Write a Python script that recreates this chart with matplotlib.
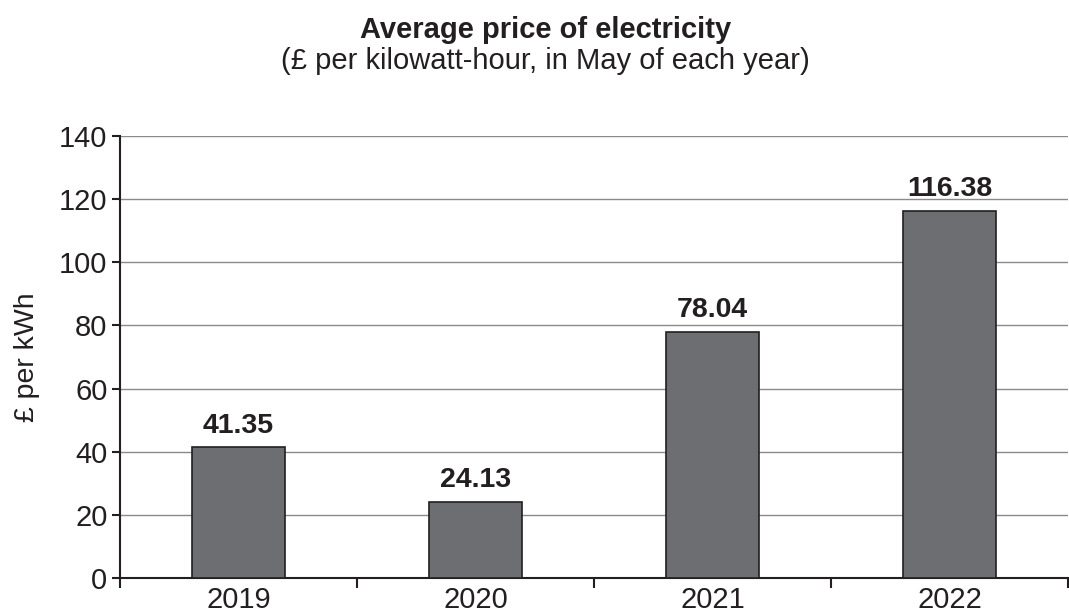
import numpy as np
import matplotlib.pyplot as plt

plt.rcParams['font.family'] = ['Liberation Sans', 'DejaVu Sans']

years = ["2019", "2020", "2021", "2022"]
prices = [41.35, 24.13, 78.04, 116.38]
y_ticks = [0, 20, 40, 60, 80, 100, 120, 140]

ink = "#231f20"
bar_grey = "#6d6e71"

fig = plt.figure(figsize=(10.69, 6.15), dpi=100)
ax = fig.add_axes([120 / 1069, 1 - 578 / 615, 948 / 1069, (578 - 136) / 615])

x = np.arange(len(years))
bars = ax.bar(x, prices, width=0.39, color=bar_grey, edgecolor=ink, linewidth=1.2, zorder=3)

for rect, val in zip(bars, prices):
    ax.annotate(f"{val:.2f}", (rect.get_x() + rect.get_width() / 2, val),
                xytext=(0, 6), textcoords="offset points", ha="center", va="bottom",
                fontsize=20.5, fontweight="bold", color=ink)

ax.set_xlim(-0.5, len(years) - 0.5)
ax.set_ylim(0, 140)
ax.set_yticks(y_ticks)
ax.yaxis.grid(True, color="#8a8a8a", linewidth=1.0, zorder=0)

# category labels centred, tick marks between categories
ax.set_xticks(x)
ax.set_xticklabels(years)
ax.set_xticks(np.arange(-0.5, len(years)), minor=True)
ax.tick_params(axis="x", which="major", length=0, pad=6, labelsize=21, labelcolor=ink)
ax.tick_params(axis="x", which="minor", length=7, width=1.5, direction="out", color=ink)
ax.tick_params(axis="y", length=6, width=1.5, direction="out", color=ink, labelsize=21,
               labelcolor=ink, pad=3)

for side in ("top", "right"):
    ax.spines[side].set_visible(False)
for side in ("left", "bottom"):
    ax.spines[side].set_linewidth(1.5)
    ax.spines[side].set_color(ink)

ax.set_ylabel("£ per kWh", fontsize=20.5, color=ink, labelpad=14)

fig.text(0.51, 1 - 30 / 615, "Average price of electricity", ha="center", va="center",
         fontsize=21, fontweight="bold", color=ink)
fig.text(0.51, 1 - 61 / 615, "(£ per kilowatt-hour, in May of each year)", ha="center",
         va="center", fontsize=21, color=ink)

fig.savefig("out.png", dpi=100)
